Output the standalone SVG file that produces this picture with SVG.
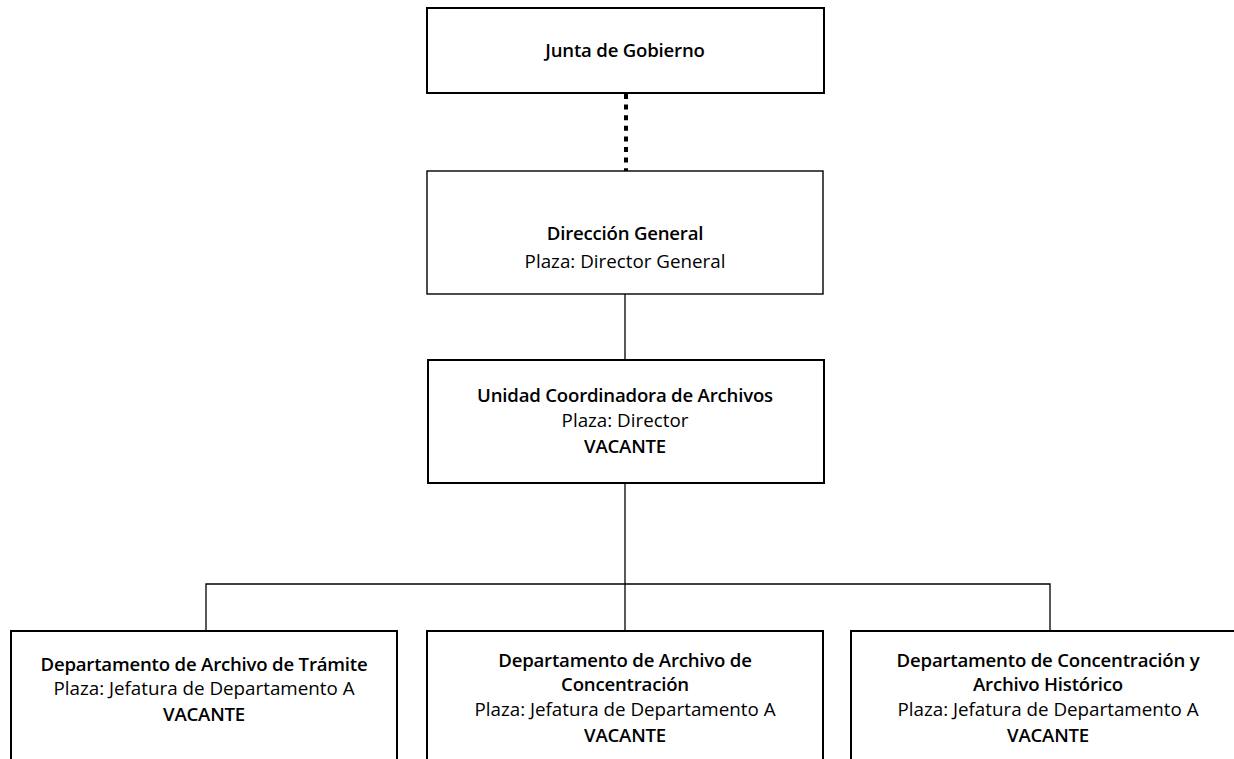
<svg xmlns="http://www.w3.org/2000/svg" width="1234" height="759" viewBox="0 0 1234 759">
<style>
.box{fill:#fff;stroke:#000;stroke-width:2}
.thin{stroke-width:1.4}
.t{font-family:"Open Sans","Liberation Sans",sans-serif;font-size:18.8px;fill:#000;text-anchor:middle}
.b{font-weight:600;font-size:18.6px;letter-spacing:-0.2px}
.c{stroke:#000;stroke-width:1.3;fill:none}
</style>
<rect width="1234" height="759" fill="#fff"/>
<g id="connectors">
<line x1="626" y1="94" x2="626" y2="171" stroke="#000" stroke-width="4" stroke-dasharray="5 5.6"/>
<line class="c" x1="625" y1="294" x2="625" y2="360"/>
<line class="c" x1="625" y1="483" x2="625" y2="631"/>
<polyline class="c" points="206,631 206,584 1050,584 1050,631"/>
</g>
<g id="junta">
<rect class="box" x="427" y="8" width="397" height="85"/>
<text class="t b" x="625" y="57">Junta de Gobierno</text>
</g>
<g id="direccion">
<rect class="box thin" x="427" y="171" width="396" height="123"/>
<text class="t b" x="625" y="240">Dirección General</text>
<text class="t" x="625" y="268">Plaza: Director General</text>
</g>
<g id="unidad">
<rect class="box" x="428" y="360" width="396" height="123"/>
<text class="t b" x="625" y="402">Unidad Coordinadora de Archivos</text>
<text class="t" x="625" y="427">Plaza: Director</text>
<text class="t b" x="625" y="453">VACANTE</text>
</g>
<g id="tramite">
<rect class="box" x="11" y="631" width="386" height="140"/>
<text class="t b" x="204" y="671">Departamento de Archivo de Trámite</text>
<text class="t" x="204" y="695">Plaza: Jefatura de Departamento A</text>
<text class="t b" x="204" y="721">VACANTE</text>
</g>
<g id="concentracion">
<rect class="box" x="427" y="631" width="396" height="140"/>
<text class="t b" x="625" y="667">Departamento de Archivo de</text>
<text class="t b" x="625" y="691">Concentración</text>
<text class="t" x="625" y="716">Plaza: Jefatura de Departamento A</text>
<text class="t b" x="625" y="742">VACANTE</text>
</g>
<g id="historico">
<rect class="box" x="851" y="631" width="400" height="140"/>
<text class="t b" x="1048" y="667">Departamento de Concentración y</text>
<text class="t b" x="1048" y="691">Archivo Histórico</text>
<text class="t" x="1048" y="716">Plaza: Jefatura de Departamento A</text>
<text class="t b" x="1048" y="742">VACANTE</text>
</g>
</svg>
